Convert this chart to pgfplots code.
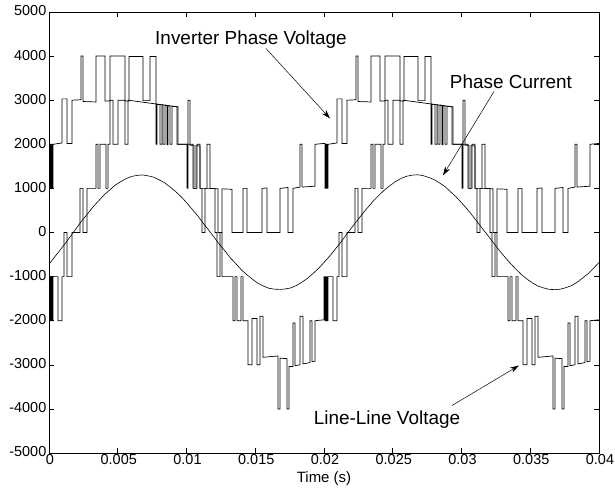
\documentclass[border=0pt]{standalone}
\usepackage{fontspec}
\setmainfont{Liberation Sans}
\usepackage{pgfplots}
\pgfplotsset{compat=1.18}
\usetikzlibrary{arrows.meta}
\begin{document}
\begin{tikzpicture}
\begin{axis}[
  name=ax, scale only axis, width=550bp, height=441bp,
  xmin=0, xmax=0.04, ymin=-5000, ymax=5000,
  xtick={0,0.005,0.01,0.015,0.02,0.025,0.03,0.035,0.04},
  xticklabels={0,0.005,0.01,0.015,0.02,0.025,0.03,0.035,0.04},
  ytick={-5000,-4000,-3000,-2000,-1000,0,1000,2000,3000,4000,5000},
  yticklabels={-5000,-4000,-3000,-2000,-1000,0,1000,2000,3000,4000,5000},
  scaled x ticks=false, scaled y ticks=false,
  tick align=inside, major tick length=5bp,
  axis line style={line width=0.8bp},
  tick style={line width=0.6bp, black},
  ticklabel style={font=\fontsize{14.5}{17}\selectfont},
  xticklabel style={inner sep=1bp, xshift=1bp},
  yticklabel style={inner sep=1.5bp, xshift=-1bp, yshift=1bp},
  xlabel={Time (s)},
  xlabel style={font=\fontsize{15}{17}\selectfont, inner sep=0bp, yshift=-6bp},
]
% Inverter phase voltage
\addplot[black, line width=0.7bp] coordinates {
(0,2000)(0.00007,2000)(0.00007,1000)(0.00015,1000)(0.00015,2000)(0.00022,2000)(0.00022,1000)(0.00029,1000)(0.00029,2000)
(0.00095,2030)(0.00095,3030)(0.00131,3030)(0.00131,2020)(0.00167,2020)(0.00167,3000)
(0.00233,3010)(0.00233,4000)(0.00247,4000)(0.00247,2970)
(0.00342,2960)(0.00342,4000)(0.00407,4000)(0.00407,2980)
(0.00444,2980)(0.00444,4000)(0.00553,4000)(0.00553,2980)
(0.00582,2980)(0.00582,3990)(0.00684,3990)(0.00684,2990)
(0.00735,2990)(0.00735,3990)(0.00778,3990)(0.00778,2910)
(0.00807,2900)(0.00807,2000)(0.00822,2000)(0.00822,2895)
(0.00858,2880)(0.00858,1990)(0.00865,1990)(0.00865,2875)
(0.00938,2850)(0.00938,2000)
(0.01011,2000)(0.01011,3000)(0.01025,3000)(0.01025,1980)
(0.01055,1980)(0.01055,1000)(0.01069,1000)(0.01069,1970)
(0.01098,1960)(0.01098,1000)
(0.01149,1000)(0.01149,2000)(0.01171,2000)(0.01171,1000)
(0.01229,990)(0.01229,0)(0.01258,0)(0.01258,990)
(0.01331,980)(0.01331,0)
(0.01411,0)(0.01411,1000)(0.01440,1000)(0.01440,0)
(0.01549,0)(0.01549,1000)(0.01585,1010)(0.01585,0)
(0.01680,0)(0.01680,1000)(0.01738,1020)(0.01738,0)
(0.01775,0)(0.01775,1000)(0.01825,1030)(0.01825,2000)(0.01840,2000)(0.01840,1030)
(0.01935,1050)(0.01935,2000)(0.02,2020)
(0.02007,2020)(0.02007,1000)(0.02015,1000)(0.02015,2000)(0.02022,2000)(0.02022,1000)(0.02029,1000)(0.02029,2000)
(0.02095,2030)(0.02095,3030)(0.02131,3030)(0.02131,2020)(0.02167,2020)(0.02167,3000)
(0.02233,3010)(0.02233,4000)(0.02247,4000)(0.02247,2970)
(0.02342,2960)(0.02342,4000)(0.02407,4000)(0.02407,2980)
(0.02444,2980)(0.02444,4000)(0.02553,4000)(0.02553,2980)
(0.02582,2980)(0.02582,3990)(0.02684,3990)(0.02684,2990)
(0.02735,2990)(0.02735,3990)(0.02778,3990)(0.02778,2910)
(0.02807,2900)(0.02807,2000)(0.02822,2000)(0.02822,2895)
(0.02858,2880)(0.02858,1990)(0.02865,1990)(0.02865,2875)
(0.02938,2850)(0.02938,2000)
(0.03011,2000)(0.03011,3000)(0.03025,3000)(0.03025,1980)
(0.03055,1980)(0.03055,1000)(0.03069,1000)(0.03069,1970)
(0.03098,1960)(0.03098,1000)
(0.03149,1000)(0.03149,2000)(0.03171,2000)(0.03171,1000)
(0.03229,990)(0.03229,0)(0.03258,0)(0.03258,990)
(0.03331,980)(0.03331,0)
(0.03411,0)(0.03411,1000)(0.03440,1000)(0.03440,0)
(0.03549,0)(0.03549,1000)(0.03585,1010)(0.03585,0)
(0.03680,0)(0.03680,1000)(0.03738,1020)(0.03738,0)
(0.03775,0)(0.03775,1000)(0.03825,1030)(0.03825,2000)(0.03840,2000)(0.03840,1030)
(0.03935,1050)(0.03935,2000)(0.04,2020)
};
% Line-line voltage
\addplot[black, line width=0.7bp] coordinates {
(0,-1000)(0.00007,-1000)(0.00007,-2000)(0.00015,-2000)(0.00015,-1000)(0.00022,-1000)(0.00022,-2000)(0.00029,-2000)(0.00029,-1000)
(0.00065,-1000)(0.00065,-2000)(0.00095,-2000)(0.00095,-1000)(0.00109,-1000)(0.00109,0)(0.00131,0)(0.00131,-1000)(0.00167,-1000)(0.00167,0)
(0.00225,0)(0.00225,1000)(0.00247,1000)(0.00247,0)(0.00276,0)(0.00276,1000)
(0.00342,1000)(0.00342,2000)(0.00356,2000)(0.00356,1000)(0.00371,1000)(0.00371,2000)
(0.00415,2000)(0.00415,1000)(0.00429,1000)(0.00429,2000)(0.00444,2000)(0.00444,3000)
(0.00465,3000)(0.00465,2000)(0.00502,2000)(0.00502,3000)(0.00553,3000)(0.00553,2000)(0.00575,2000)(0.00575,3000)
(0.00778,2915)(0.00778,2000)(0.00785,2000)(0.00785,2912)
(0.00829,2895)(0.00829,2000)(0.00844,2000)(0.00844,2890)
(0.00880,2870)(0.00880,2000)(0.00895,2000)(0.00895,2865)
(0.00931,2850)(0.00931,2000)
(0.01004,2000)(0.01004,1000)(0.01011,1000)(0.01011,2000)
(0.01047,2000)(0.01047,1000)(0.01076,1000)(0.01076,2000)
(0.01098,2000)(0.01098,1000)(0.01113,1000)(0.01113,0)(0.01135,0)(0.01135,1000)
(0.01207,1000)(0.01207,0)(0.01222,0)(0.01222,-1000)(0.01244,-1000)(0.01244,0)(0.01258,0)(0.01258,-1000)
(0.01338,-1000)(0.01338,-2000)(0.01353,-2000)(0.01353,-1000)(0.01367,-1000)(0.01367,-2000)
(0.01396,-2000)(0.01396,-1000)(0.01411,-1000)(0.01411,-2000)
(0.01447,-2000)(0.01447,-3000)(0.01476,-3000)(0.01476,-1950)
(0.01513,-1950)(0.01513,-3000)(0.01535,-3000)(0.01535,-1900)
(0.01556,-1900)(0.01556,-2830)(0.01665,-2800)(0.01665,-4000)(0.01680,-4000)(0.01680,-2850)
(0.01731,-2860)(0.01731,-4000)(0.01745,-4000)(0.01745,-3040)
(0.01775,-3040)(0.01775,-2050)(0.01789,-2050)(0.01789,-3020)
(0.01825,-3000)(0.01825,-1900)(0.01847,-1900)(0.01847,-2980)
(0.01898,-2950)(0.01898,-2000)(0.01913,-2000)(0.01913,-2930)
(0.01935,-2920)(0.01935,-2000)(0.02,-1980)
(0.02,-1000)(0.02007,-1000)(0.02007,-2000)(0.02015,-2000)(0.02015,-1000)(0.02022,-1000)(0.02022,-2000)(0.02029,-2000)(0.02029,-1000)
(0.02065,-1000)(0.02065,-2000)(0.02095,-2000)(0.02095,-1000)(0.02109,-1000)(0.02109,0)(0.02131,0)(0.02131,-1000)(0.02167,-1000)(0.02167,0)
(0.02225,0)(0.02225,1000)(0.02247,1000)(0.02247,0)(0.02276,0)(0.02276,1000)
(0.02342,1000)(0.02342,2000)(0.02356,2000)(0.02356,1000)(0.02371,1000)(0.02371,2000)
(0.02415,2000)(0.02415,1000)(0.02429,1000)(0.02429,2000)(0.02444,2000)(0.02444,3000)
(0.02465,3000)(0.02465,2000)(0.02502,2000)(0.02502,3000)(0.02553,3000)(0.02553,2000)(0.02575,2000)(0.02575,3000)
(0.02778,2915)(0.02778,2000)(0.02785,2000)(0.02785,2912)
(0.02829,2895)(0.02829,2000)(0.02844,2000)(0.02844,2890)
(0.02880,2870)(0.02880,2000)(0.02895,2000)(0.02895,2865)
(0.02931,2850)(0.02931,2000)
(0.03004,2000)(0.03004,1000)(0.03011,1000)(0.03011,2000)
(0.03047,2000)(0.03047,1000)(0.03076,1000)(0.03076,2000)
(0.03098,2000)(0.03098,1000)(0.03113,1000)(0.03113,0)(0.03135,0)(0.03135,1000)
(0.03207,1000)(0.03207,0)(0.03222,0)(0.03222,-1000)(0.03244,-1000)(0.03244,0)(0.03258,0)(0.03258,-1000)
(0.03338,-1000)(0.03338,-2000)(0.03353,-2000)(0.03353,-1000)(0.03367,-1000)(0.03367,-2000)
(0.03396,-2000)(0.03396,-1000)(0.03411,-1000)(0.03411,-2000)
(0.03447,-2000)(0.03447,-3000)(0.03476,-3000)(0.03476,-1950)
(0.03513,-1950)(0.03513,-3000)(0.03535,-3000)(0.03535,-1900)
(0.03556,-1900)(0.03556,-2830)(0.03665,-2800)(0.03665,-4000)(0.03680,-4000)(0.03680,-2850)
(0.03731,-2860)(0.03731,-4000)(0.03745,-4000)(0.03745,-3040)
(0.03775,-3040)(0.03775,-2050)(0.03789,-2050)(0.03789,-3020)
(0.03825,-3000)(0.03825,-1900)(0.03847,-1900)(0.03847,-2980)
(0.03898,-2950)(0.03898,-2000)(0.03913,-2000)(0.03913,-2930)
(0.03935,-2920)(0.03935,-2000)(0.04,-1980)
};
% Phase current
\addplot[black, line width=0.6bp] coordinates {
(0,-720)(0.0004,-560)(0.0008,-400)(0.0012,-240)(0.0016,-70)(0.0020,100)(0.0024,270)(0.0028,420)
(0.0032,580)(0.0036,715)(0.0040,850)(0.0044,960)(0.0048,1070)(0.0052,1150)(0.0056,1220)(0.0060,1270)
(0.0064,1295)(0.0068,1305)(0.0072,1285)(0.0076,1255)(0.0080,1195)(0.0084,1130)(0.0088,1035)(0.0092,930)
(0.0096,815)(0.0100,680)(0.0104,530)(0.0108,385)(0.0112,215)(0.0116,60)(0.0120,-105)(0.0124,-270)
(0.0128,-420)(0.0132,-580)(0.0136,-710)(0.0140,-850)(0.0144,-960)(0.0148,-1060)(0.0152,-1155)(0.0156,-1215)
(0.0160,-1265)(0.0164,-1285)(0.0168,-1290)(0.0172,-1280)(0.0176,-1255)(0.0180,-1200)(0.0184,-1125)(0.0188,-1040)
(0.0192,-930)(0.0196,-815)(0.0200,-680)
(0.0204,-540)(0.0208,-385)(0.0212,-230)(0.0216,-60)(0.0220,105)(0.0224,265)(0.0228,425)
(0.0232,575)(0.0236,720)(0.0240,845)(0.0244,965)(0.0248,1065)(0.0252,1155)(0.0256,1225)(0.0260,1275)
(0.0264,1300)(0.0268,1310)(0.0272,1290)(0.0276,1250)(0.0280,1200)(0.0284,1125)(0.0288,1040)(0.0292,925)
(0.0296,810)(0.0300,675)(0.0304,535)(0.0308,380)(0.0312,220)(0.0316,55)(0.0320,-100)(0.0324,-265)
(0.0328,-425)(0.0332,-575)(0.0336,-715)(0.0340,-845)(0.0344,-965)(0.0348,-1065)(0.0352,-1150)(0.0356,-1220)
(0.0360,-1260)(0.0364,-1290)(0.0368,-1295)(0.0372,-1285)(0.0376,-1250)(0.0380,-1205)(0.0384,-1130)(0.0388,-1035)
(0.0392,-935)(0.0396,-810)(0.0400,-680)
};
\node[font=\fontsize{19}{21}\selectfont] at (axis cs:0.01469,4376) {Inverter Phase Voltage};
\draw[-{Stealth[length=9bp,width=5.5bp]}, line width=0.5bp] (axis cs:0.01578,4172) -- (axis cs:0.02044,2585);
\node[font=\fontsize{19}{21}\selectfont] at (axis cs:0.0336,3424) {Phase Current};
\draw[-{Stealth[length=9bp,width=5.5bp]}, line width=0.5bp] (axis cs:0.03236,3197) -- (axis cs:0.02865,1293);
\node[font=\fontsize{19}{21}\selectfont] at (axis cs:0.02458,-4240) {Line-Line Voltage};
\draw[-{Stealth[length=9bp,width=5.5bp]}, line width=0.5bp] (axis cs:0.02931,-3923) -- (axis cs:0.03418,-3016);
\coordinate (bl) at (rel axis cs:0,0);
\coordinate (tr) at (rel axis cs:1,1);
\end{axis}
\pgfresetboundingbox
\path ([shift={(-49bp,-39bp)}]bl) rectangle ([shift={(16bp,12bp)}]tr);
\end{tikzpicture}
\end{document}
